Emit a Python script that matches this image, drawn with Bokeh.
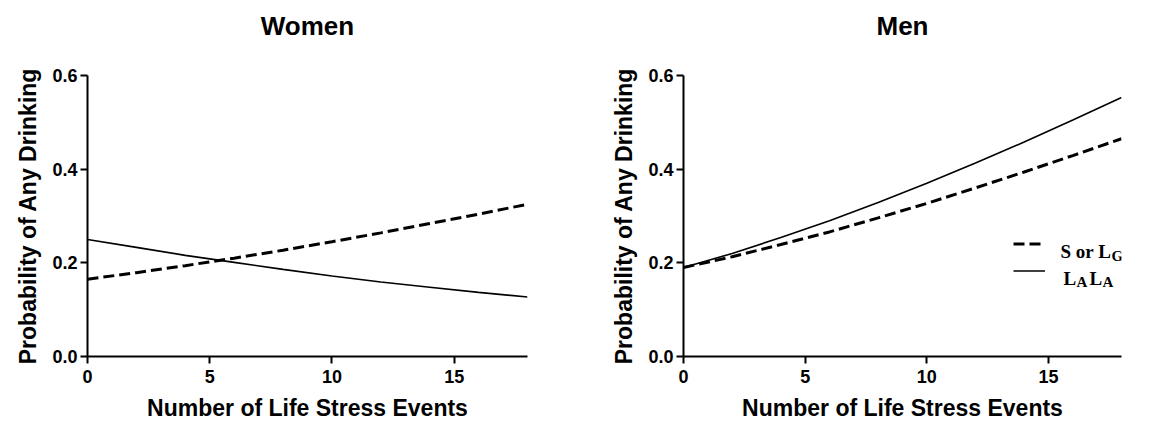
from bokeh.plotting import figure
from bokeh.layouts import row
from bokeh.models import (Range1d, FixedTicker, NumeralTickFormatter, Legend, LegendItem,
                          Label, Title)
from bokeh.embed import file_html
from bokeh.resources import INLINE

stress = [0, 2, 4, 6, 8, 10, 12, 14, 16, 18]
women_s_or_lg = [0.165, 0.179, 0.194, 0.210, 0.227, 0.245, 0.264, 0.284, 0.304, 0.325]
women_lala = [0.250, 0.233, 0.216, 0.201, 0.186, 0.172, 0.159, 0.148, 0.137, 0.127]
men_s_or_lg = [0.190, 0.213, 0.239, 0.266, 0.296, 0.327, 0.360, 0.394, 0.429, 0.465]
men_lala = [0.190, 0.220, 0.254, 0.290, 0.329, 0.370, 0.413, 0.458, 0.505, 0.553]
x_ticks = [0, 5, 10, 15]
y_ticks = [0.0, 0.2, 0.4, 0.6]

SANS = "Liberation Sans"
SERIF = "Liberation Serif"


def make_fig(title, width, left, right):
    p = figure(width=width, height=423, output_backend="svg", toolbar_location=None,
               x_range=Range1d(0, 18), y_range=Range1d(0, 0.6),
               min_border_left=left, min_border_right=right,
               min_border_top=75, min_border_bottom=60)
    # invisible spacer between the frame and the title
    p.add_layout(Title(text=" ", text_font=SANS, text_font_size="28px", standoff=0), "above")
    p.title.text = title
    p.title.align = "center"
    p.title.text_font = SANS
    p.title.text_font_style = "bold"
    p.title.text_font_size = "26px"
    p.title.text_color = "black"
    p.title.standoff = 4
    p.outline_line_color = None
    p.xgrid.visible = False
    p.ygrid.visible = False
    for ax in (p.xaxis[0], p.yaxis[0]):
        ax.axis_line_width = 2
        ax.axis_line_color = "black"
        ax.major_tick_line_width = 2
        ax.major_tick_line_color = "black"
        ax.major_tick_out = 7
        ax.major_tick_in = 0
        ax.minor_tick_line_color = None
        ax.major_label_text_font = SANS
        ax.major_label_text_font_style = "bold"
        ax.major_label_text_font_size = "18px"
        ax.major_label_text_color = "black"
        ax.axis_label_text_font = SANS
        ax.axis_label_text_font_style = "bold"
        ax.axis_label_text_font_size = "23px"
        ax.axis_label_text_color = "black"
    p.xaxis.ticker = FixedTicker(ticks=x_ticks)
    p.yaxis.ticker = FixedTicker(ticks=y_ticks)
    p.yaxis.formatter = NumeralTickFormatter(format="0.0")
    p.xaxis.axis_label = "Number of Life Stress Events"
    p.yaxis.axis_label = "Probability of Any Drinking"
    p.xaxis.major_label_standoff = 6
    p.yaxis.major_label_standoff = 3
    p.xaxis.axis_label_standoff = 9
    p.yaxis.axis_label_standoff = 8
    return p


p1 = make_fig("Women", 600, 87, 73)
p1.line(stress, women_s_or_lg, line_color="black", line_width=3, line_dash="11 5")
p1.line(stress, women_lala, line_color="black", line_width=1.6)

p2 = make_fig("Men", 531, 83, 10)
r_dash = p2.line(stress, men_s_or_lg, line_color="black", line_width=3, line_dash="11 5")
r_solid = p2.line(stress, men_lala, line_color="black", line_width=1.6)

legend = Legend(items=[LegendItem(label=" ", renderers=[r_dash]),
                       LegendItem(label=" ", renderers=[r_solid])],
                location=(330, 72), orientation="vertical",
                glyph_width=32, glyph_height=27, spacing=0, padding=0, margin=0,
                label_standoff=0, label_text_font_size="8px",
                background_fill_alpha=0, border_line_color=None)
p2.add_layout(legend)

lab_kw = dict(x_units="screen", y_units="screen", text_font=SERIF,
              text_font_style="bold", text_color="black", text_baseline="alphabetic")
p2.add_layout(Label(x=377, y=105, text="S or L", text_font_size="19px", **lab_kw))
p2.add_layout(Label(x=428, y=101, text="G", text_font_size="15px", **lab_kw))
p2.add_layout(Label(x=380, y=78, text="L", text_font_size="19px", **lab_kw))
p2.add_layout(Label(x=393, y=75, text="A", text_font_size="15px", **lab_kw))
p2.add_layout(Label(x=406, y=78, text="L", text_font_size="19px", **lab_kw))
p2.add_layout(Label(x=419, y=75, text="A", text_font_size="15px", **lab_kw))

layout = row(p1, p2)
open("out.html", "w").write(file_html(layout, INLINE))
